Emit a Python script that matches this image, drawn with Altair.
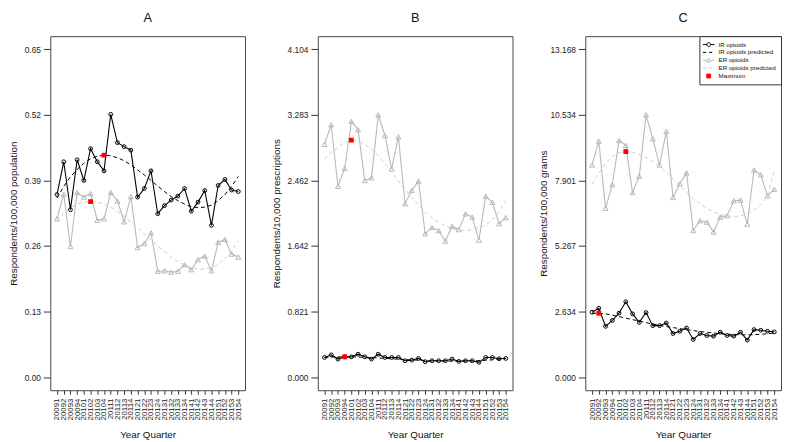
import altair as alt
import pandas as pd

QUARTERS = ["20091", "20092", "20093", "20094", "20101", "20102", "20103", "20104",
            "20111", "20112", "20113", "20114", "20121", "20122", "20123", "20124",
            "20131", "20132", "20133", "20134", "20141", "20142", "20143", "20144",
            "20151", "20152", "20153", "20154"]

# Panel A: respondents / 100,000 population
A_IR = [0.362, 0.427, 0.332, 0.431, 0.390, 0.453, 0.427, 0.409, 0.521, 0.465, 0.457, 0.450, 0.357, 0.374,
        0.409, 0.324, 0.340, 0.351, 0.359, 0.374, 0.329, 0.347, 0.370, 0.301, 0.380, 0.392, 0.371, 0.368]
A_IR_PRED = [0.355, 0.378, 0.397, 0.412, 0.424, 0.433, 0.438, 0.440, 0.439, 0.435, 0.429, 0.421, 0.411, 0.401,
             0.390, 0.379, 0.368, 0.358, 0.350, 0.343, 0.338, 0.336, 0.337, 0.341, 0.350, 0.362, 0.378, 0.398]
A_ER = [0.314, 0.363, 0.259, 0.366, 0.357, 0.364, 0.311, 0.314, 0.366, 0.349, 0.308, 0.358, 0.257, 0.265,
        0.286, 0.210, 0.211, 0.208, 0.210, 0.223, 0.213, 0.233, 0.240, 0.211, 0.267, 0.273, 0.244, 0.238]
A_ER_PRED = [0.309, 0.325, 0.336, 0.343, 0.347, 0.348, 0.347, 0.343, 0.337, 0.329, 0.319, 0.308, 0.296, 0.284,
             0.272, 0.260, 0.249, 0.238, 0.229, 0.222, 0.217, 0.214, 0.214, 0.217, 0.224, 0.235, 0.250, 0.270]
A_TICKS = [0.0, 0.13, 0.26, 0.39, 0.52, 0.65]

# Panel B: respondents / 10,000 prescriptions
B_IR = [0.246, 0.279, 0.226, 0.254, 0.254, 0.287, 0.254, 0.226, 0.287, 0.246, 0.246, 0.246, 0.205, 0.213,
        0.234, 0.193, 0.205, 0.205, 0.205, 0.226, 0.197, 0.205, 0.205, 0.185, 0.246, 0.246, 0.230, 0.234]
B_IR_PRED = [0.245, 0.250, 0.253, 0.254, 0.253, 0.251, 0.248, 0.244, 0.240, 0.235, 0.230, 0.225, 0.220, 0.216,
             0.212, 0.208, 0.205, 0.203, 0.201, 0.200, 0.200, 0.201, 0.203, 0.206, 0.210, 0.216, 0.224, 0.234]
B_ER = [2.914, 3.160, 2.389, 2.614, 3.201, 3.099, 2.462, 2.495, 3.283, 3.025, 2.606, 3.008, 2.171, 2.339,
        2.454, 1.794, 1.875, 1.834, 1.703, 1.888, 1.847, 2.044, 2.003, 1.715, 2.265, 2.188, 1.921, 1.998]
B_ER_PRED = [2.729, 2.810, 2.873, 2.934, 2.967, 2.955, 2.914, 2.852, 2.770, 2.676, 2.565, 2.454, 2.348, 2.250,
             2.155, 2.060, 1.990, 1.937, 1.888, 1.858, 1.840, 1.834, 1.845, 1.870, 1.905, 1.970, 2.070, 2.210]
B_TICKS = [0.0, 0.821, 1.642, 2.462, 3.283, 4.104]

# Panel C: respondents / 100,000 grams
C_IR = [2.607, 2.766, 2.041, 2.278, 2.568, 3.029, 2.541, 2.199, 2.594, 2.068, 2.068, 2.173, 1.752, 1.844,
        1.975, 1.514, 1.752, 1.673, 1.646, 1.804, 1.673, 1.646, 1.804, 1.488, 1.909, 1.883, 1.844, 1.817]
C_IR_PRED = [2.560, 2.568, 2.540, 2.490, 2.430, 2.370, 2.310, 2.250, 2.190, 2.130, 2.080, 2.030, 1.990, 1.950,
             1.910, 1.870, 1.830, 1.800, 1.770, 1.745, 1.725, 1.710, 1.700, 1.700, 1.705, 1.720, 1.740, 1.770]
C_ER = [8.520, 9.481, 6.782, 7.730, 9.507, 9.310, 7.414, 8.072, 10.534, 9.573, 8.520, 9.876, 7.216, 7.769,
        8.204, 5.886, 6.281, 6.228, 5.833, 6.426, 6.479, 7.084, 7.111, 6.149, 8.322, 8.125, 7.282, 7.545]
C_ER_PRED = [7.740, 8.200, 8.580, 8.860, 9.020, 9.060, 9.030, 8.950, 8.820, 8.650, 8.450, 8.220, 7.970, 7.700,
             7.430, 7.180, 6.960, 6.780, 6.630, 6.530, 6.470, 6.450, 6.480, 6.560, 6.700, 6.920, 7.300, 8.300]
C_TICKS = [0.0, 2.634, 5.267, 7.901, 10.534, 13.168]

# index of the maximum of each predicted curve: (IR, ER)
A_MAX = (7, 5)
B_MAX = (3, 4)
C_MAX = (1, 5)

LEGEND_LABELS = ["IR opioids", "IR opioids predicted", "ER opioids", "ER opioids predicted", "Maximum"]

FONT = "Liberation Sans"
IR_C = "#000000"
ER_C = "#b8b8b8"
ER_PRED_C = "#cccccc"
MAX_C = "#ff0000"

LEGEND_SHAPES = [
    "M-1.85,0L-0.62,0M0.62,0L1.85,0M-0.62,0A0.62,0.62 0 1,0 0.62,0A0.62,0.62 0 1,0 -0.62,0",
    "M-1.85,0L-0.8,0M0.1,0L1.15,0",
    "M-1.85,0L-0.68,0M0.68,0L1.85,0M0,-0.7L0.7,0.48L-0.7,0.48Z",
    "M-1.85,0L-0.8,0M0.1,0L1.15,0",
    "M-0.62,-0.62L0.62,-0.62L0.62,0.62L-0.62,0.62Z",
]
LEGEND_STROKES = [IR_C, IR_C, ER_C, ER_PRED_C, MAX_C]
LEGEND_FILLS = ["transparent", "transparent", "transparent", "transparent", MAX_C]


def frame(values):
    return pd.DataFrame({"q": QUARTERS, "v": values})


def panel(title, ir, ir_pred, er, er_pred, maxes, ticks, fmt, ylabel, width, title_x, legend=False):
    top = ticks[-1]
    ext = top * 0.04
    x = alt.X("q:O", sort=QUARTERS,
              scale=alt.Scale(type="point", padding=1.08, domain=QUARTERS),
              axis=alt.Axis(title="Year Quarter", labelAngle=270, labelFontSize=8, labelFont=FONT,
                            labelColor="#222", tickSize=4, tickColor="#333", labelPadding=4,
                            domain=False, grid=False, labelOverlap=False,
                            titleFontSize=10, titleFont=FONT, titleFontWeight="normal", titleColor="#111",
                            titleY=45, titleBaseline="middle"))
    y = alt.Y("v:Q", scale=alt.Scale(domain=[-ext, top + ext], nice=False, zero=False),
              axis=alt.Axis(values=ticks, format=fmt, title=ylabel, grid=False, domain=False,
                            tickSize=7, tickColor="#333", labelPadding=3, labelFontSize=8.5,
                            labelFont=FONT, labelColor="#222", labelFlush=False, labelOverlap=False,
                            titleFontSize=10, titleFont=FONT, titleFontWeight="normal", titleColor="#111",
                            titleX=title_x, titleY=180, titleBaseline="middle", titleAlign="center",
                            titleAngle=270))

    er_df = frame(er)
    ir_df = frame(ir)
    layers = [
        alt.Chart(er_df).mark_line(color=ER_C, strokeWidth=1.1).encode(x=x, y=y),
        alt.Chart(er_df).mark_point(shape="triangle-up", color=ER_C, size=26, filled=False,
                                    strokeWidth=1, opacity=1).encode(x=x, y=y),
        alt.Chart(frame(er_pred)).mark_line(color=ER_PRED_C, strokeDash=[4, 3], strokeWidth=1).encode(x=x, y=y),
        alt.Chart(ir_df).mark_line(color=IR_C, strokeWidth=1.1).encode(x=x, y=y),
        alt.Chart(ir_df).mark_point(shape="circle", color=IR_C, size=15, filled=False,
                                    strokeWidth=1, opacity=1).encode(x=x, y=y),
        alt.Chart(frame(ir_pred)).mark_line(color=IR_C, strokeDash=[4, 3], strokeWidth=1).encode(x=x, y=y),
    ]
    max_df = pd.DataFrame({"q": [QUARTERS[maxes[0]], QUARTERS[maxes[1]]],
                           "v": [ir_pred[maxes[0]], er_pred[maxes[1]]]})
    layers.append(alt.Chart(max_df).mark_square(color=MAX_C, size=24, opacity=1).encode(x=x, y=y))

    if legend:
        lg = alt.Legend(title=None, orient="top-right", offset=0, padding=4.5, fillColor="white",
                        strokeColor="#333", labelFontSize=6.3, labelFont=FONT, labelColor="#111",
                        symbolSize=40, symbolStrokeWidth=1, rowPadding=-1.1, labelOffset=6,
                        symbolOffset=1, symbolOpacity=1, labelLimit=200)
        leg_df = pd.DataFrame({"q": [QUARTERS[0]] * 5, "v": [0.0] * 5, "series": LEGEND_LABELS})
        layers.append(
            alt.Chart(leg_df).mark_point(filled=True, opacity=0).encode(
                x=x, y=y,
                shape=alt.Shape("series:N", sort=LEGEND_LABELS,
                                scale=alt.Scale(domain=LEGEND_LABELS, range=LEGEND_SHAPES), legend=lg),
                stroke=alt.Stroke("series:N", sort=LEGEND_LABELS,
                                  scale=alt.Scale(domain=LEGEND_LABELS, range=LEGEND_STROKES), legend=lg),
                fill=alt.Fill("series:N", sort=LEGEND_LABELS,
                              scale=alt.Scale(domain=LEGEND_LABELS, range=LEGEND_FILLS), legend=lg),
            )
        )

    return alt.layer(*layers).properties(
        width=width, height=360,
        title=alt.TitleParams(text=title, fontSize=13, fontWeight="normal", font=FONT, color="#111",
                              anchor="middle", frame="group", offset=1, baseline="alphabetic"),
    )


pa = panel("A", A_IR, A_IR_PRED, A_ER, A_ER_PRED, A_MAX, A_TICKS, ".2f",
           "Respondents/100,000 population", 198, -37)
pb = panel("B", B_IR, B_IR_PRED, B_ER, B_ER_PRED, B_MAX, B_TICKS, ".3f",
           "Respondents/10,000 prescriptions", 198, -41.5)
pc = panel("C", C_IR, C_IR_PRED, C_ER, C_ER_PRED, C_MAX, C_TICKS, ".3f",
           "Respondents/100,000 grams", 199, -42.5, legend=True)

chart = alt.hconcat(pa, pb, pc, spacing=74, bounds="flush").resolve_scale(
    shape="independent", stroke="independent", fill="independent"
).resolve_legend(
    shape="independent", stroke="independent", fill="independent"
).properties(
    padding={"left": 0, "top": 0, "right": 0, "bottom": 0}
).configure(font=FONT).configure_view(stroke="#444", strokeWidth=1)

chart.save("out.html", embed_options={"renderer": "svg", "actions": False})
